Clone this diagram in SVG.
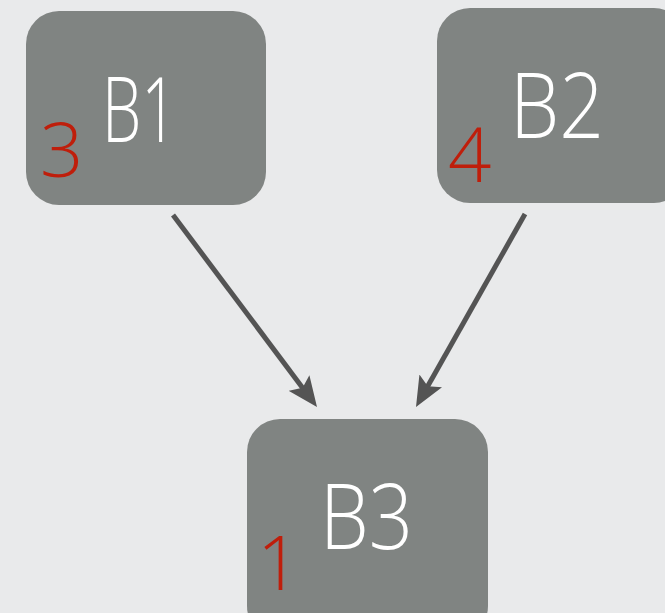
<svg xmlns="http://www.w3.org/2000/svg" width="665" height="613" viewBox="0 0 665 613">
<defs>
<style>
.box{fill:#808482;}
.lbl{font-family:"Open Sans","Liberation Sans",sans-serif;font-weight:300;font-size:90px;fill:#ffffff;}
.num{font-family:"Open Sans","Liberation Sans",sans-serif;font-weight:300;font-size:76px;fill:#bf1e0b;}
.edge{stroke:#545454;stroke-width:5;fill:none;}
</style>
<marker id="ah" markerUnits="userSpaceOnUse" markerWidth="30" markerHeight="26" refX="18" refY="13" orient="auto">
<path d="M0,0 L30,13 L0,26 L6,13 Z" fill="#545454"/>
</marker>
</defs>
<rect width="665" height="613" fill="#e9eaeb"/>
<g id="B1">
<rect class="box" x="26" y="11" width="240" height="194" rx="33"/>
<text class="lbl" x="102" y="142" textLength="75" lengthAdjust="spacingAndGlyphs">B1</text>
<text class="num" x="40" y="177">3</text>
</g>
<g id="B2">
<rect class="box" x="437" y="8" width="250" height="195" rx="33"/>
<text class="lbl" x="510" y="138" textLength="94" lengthAdjust="spacingAndGlyphs">B2</text>
<text class="num" x="448" y="182">4</text>
</g>
<g id="B3">
<rect class="box" x="247" y="419" width="241" height="220" rx="33"/>
<text class="lbl" x="320" y="549" textLength="93" lengthAdjust="spacingAndGlyphs">B3</text>
<text class="num" x="257" y="590">1</text>
</g>
<g id="connectors">
<line class="edge" x1="173" y1="215" x2="309.8" y2="397.4" marker-end="url(#ah)"/>
<line class="edge" x1="525" y1="214" x2="421.9" y2="396.6" marker-end="url(#ah)"/>
</g>
</svg>
